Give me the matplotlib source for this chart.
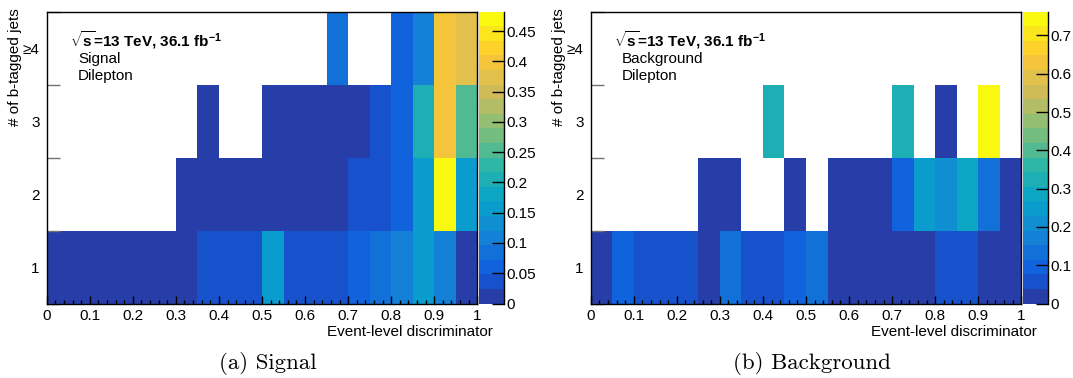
import numpy as np
import matplotlib
matplotlib.use("Agg")
import matplotlib.pyplot as plt
from matplotlib.colors import ListedColormap, BoundaryNorm
from matplotlib.ticker import FixedLocator, FuncFormatter

plt.rcParams['font.family'] = ['Liberation Sans', 'DejaVu Sans']
plt.rcParams['mathtext.fontset'] = 'custom'
plt.rcParams['mathtext.rm'] = 'Liberation Sans'
plt.rcParams['mathtext.bf'] = 'Liberation Sans:bold'
plt.rcParams['mathtext.it'] = 'Liberation Sans:italic'

# binning: 20 bins in the discriminator, 4 b-tag multiplicity bins
x_edges = np.linspace(0, 1, 21)
y_edges = np.arange(0.5, 5.0, 1.0)
y_labels = ['1', '2', '3', '≥4']

N = None  # empty bin (not drawn)

# Signal, one list per b-tag bin
sig_1b = [0.012, 0.011, 0.010, 0.009, 0.010, 0.012, 0.014, 0.036, 0.038, 0.040,
          0.160, 0.040, 0.038, 0.042, 0.062, 0.085, 0.108, 0.160, 0.110, 0.015]
sig_2b = [N, N, N, N, N, N, 0.004, 0.006, 0.007, 0.008,
          0.010, 0.012, 0.014, 0.018, 0.040, 0.045, 0.060, 0.160, 0.482, 0.165]
sig_3b = [N, N, N, N, N, N, N, 0.003, N, N,
          0.004, 0.005, 0.006, 0.008, 0.012, 0.035, 0.062, 0.210, 0.400, 0.255]
sig_4b = [N, N, N, N, N, N, N, N, N, N,
          N, N, N, 0.085, N, N, 0.062, 0.108, 0.400, 0.375]
sig_zmax = 0.482
sig_ticks = [0, 0.05, 0.1, 0.15, 0.2, 0.25, 0.3, 0.35, 0.4, 0.45]

# Background
bkg_1b = [0.015, 0.095, 0.058, 0.055, 0.060, 0.020, 0.130, 0.056, 0.060, 0.095,
          0.130, 0.030, 0.025, 0.020, 0.018, 0.015, 0.058, 0.060, 0.020, 0.012]
bkg_2b = [N, N, N, N, N, 0.020, 0.015, N, N, 0.010,
          N, 0.012, 0.015, 0.025, 0.095, 0.245, 0.205, 0.285, 0.130, 0.020]
bkg_3b = [N, N, N, N, N, N, N, N, 0.320, N,
          N, N, N, N, 0.320, N, 0.010, N, 0.762, N]
bkg_4b = [N] * 20
bkg_zmax = 0.762
bkg_ticks = [0, 0.1, 0.2, 0.3, 0.4, 0.5, 0.6, 0.7]

# ROOT kBird palette, 20 contour levels
stops = [0.0, 0.125, 0.25, 0.375, 0.5, 0.625, 0.75, 0.875, 1.0]
red = [0.2082, 0.0592, 0.0780, 0.0232, 0.1802, 0.5301, 0.8186, 0.9956, 0.9764]
green = [0.1664, 0.3599, 0.5041, 0.6419, 0.7178, 0.7492, 0.7328, 0.7862, 0.9832]
blue = [0.5293, 0.8684, 0.8385, 0.7914, 0.6425, 0.4662, 0.3499, 0.1968, 0.0539]
t = np.array([int((i + 0.99) * 255 / 20) for i in range(20)]) / 255.0
bird = ListedColormap(np.column_stack([np.interp(t, stops, red),
                                       np.interp(t, stops, green),
                                       np.interp(t, stops, blue)]))

W, H = 1073, 378
fig = plt.figure(figsize=(W / 100, H / 100), dpi=100)

fmt = FuncFormatter(lambda v, p: '%g' % round(v, 3))


def panel(x0, rows, zmax, ticks, name, caption):
    # frame and palette positions in pixels
    ax = fig.add_axes([x0 / W, (H - 303.5) / H, 430.6 / W, 291.8 / H])
    cax = fig.add_axes([(x0 + 432.3) / W, (H - 303.5) / H, 24.5 / W, 291.8 / H])

    z = np.array(rows, dtype=float)
    z = np.ma.masked_invalid(z)
    norm = BoundaryNorm(np.linspace(0, zmax, 21), 20)
    mesh = ax.pcolormesh(x_edges, y_edges, z, cmap=bird, norm=norm,
                         antialiased=False, edgecolors='none')
    ax.set_xlim(0, 1)
    ax.set_ylim(0.5, 4.5)

    ax.set_xticks(np.arange(0, 1.001, 0.1))
    ax.xaxis.set_minor_locator(FixedLocator(np.arange(0, 1.001, 0.02)))
    ax.xaxis.set_major_formatter(fmt)
    ax.tick_params(axis='x', which='major', direction='in', length=5.8,
                   width=1, labelsize=11, pad=4)
    ax.tick_params(axis='x', which='minor', direction='in', length=2.6, width=1)

    ax.set_yticks(y_edges)
    ax.set_yticklabels([])
    ax.yaxis.set_minor_locator(FixedLocator([1, 2, 3, 4]))
    ax.set_yticklabels(y_labels, minor=True)
    ax.tick_params(axis='y', which='major', direction='in', length=9.4,
                   width=1, color='0.45')
    ax.tick_params(axis='y', which='minor', length=0, labelsize=11, pad=5)
    for s in ax.spines.values():
        s.set_linewidth(1)

    cb = fig.colorbar(mesh, cax=cax, ticks=ticks)
    cb.outline.set_visible(False)
    cb.minorticks_off()
    cax.yaxis.set_major_formatter(fmt)
    cax.tick_params(direction='in', length=8.6, width=1, labelsize=11, pad=2)
    cax.plot([1, 1], [0, 1], color='k', lw=1, transform=cax.transAxes, clip_on=False)

    ax.text(0.054, 0.880, r'$\sqrt{\mathbf{s}}$=13 TeV, 36.1 fb$^{\mathbf{-1}}$',
            transform=ax.transAxes, fontsize=11, fontweight='bold')
    ax.text(0.0727, 0.824, name, transform=ax.transAxes, fontsize=11)
    ax.text(0.0727, 0.766, 'Dilepton', transform=ax.transAxes, fontsize=11)

    ax.text(1.0358, -0.1114, 'Event-level discriminator', transform=ax.transAxes,
            fontsize=11, ha='right', va='baseline')
    ax.text(-0.0725, 1.0127, '# of b-tagged jets', transform=ax.transAxes,
            fontsize=11, rotation=90, ha='center', va='top')
    ax.text(0.5128, -0.204, caption, transform=ax.transAxes, fontsize=16.5,
            family='cmr10', ha='center', va='center')


panel(46.7, [sig_1b, sig_2b, sig_3b, sig_4b], sig_zmax, sig_ticks,
      'Signal', '(a) Signal')
panel(590.7, [bkg_1b, bkg_2b, bkg_3b, bkg_4b], bkg_zmax, bkg_ticks,
      'Background', '(b) Background')

fig.savefig('out.png', dpi=100)
